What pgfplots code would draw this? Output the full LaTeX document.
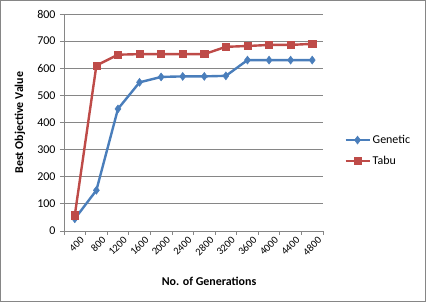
\documentclass[border=0pt]{standalone}
\usepackage{pgfplots}
\pgfplotsset{compat=1.18}
\usepackage{fontspec}
\setmainfont{Carlito}
\definecolor{gen}{HTML}{4A7EBB}
\definecolor{tabu}{HTML}{BE4B48}
\definecolor{ax}{HTML}{868686}
\begin{document}
\begin{tikzpicture}[x=1bp,y=1bp]
\useasboundingbox (0,0) rectangle (426,302);
\draw[ax, line width=0.8bp] (0.5,0.5) rectangle (425.5,301.5);
\begin{axis}[
  at={(64bp,71bp)}, anchor=south west,
  scale only axis, width=259bp, height=217bp,
  xmin=-0.5, xmax=11.5, ymin=0, ymax=800,
  ytick={0,100,...,800},
  xtick={0,...,11},
  xticklabels={400,800,1200,1600,2000,2400,2800,3200,3600,4000,4400,4800},
  minor xtick={-0.5,0.5,...,11.5},
  major x tick style={draw=none},
  minor x tick style={ax, line width=0.8bp},
  minor tick length=4bp,
  major tick length=4bp,
  axis x line*=bottom, axis y line*=left,
  axis line style={ax, line width=0.8bp, -},
  y tick style={ax, line width=0.8bp},
  tick align=outside,
  ymajorgrids, grid style={ax, line width=0.8bp},
  /pgf/number format/assume math mode=true,
  ticklabel style={font=\fontsize{12}{14}\selectfont},
  xticklabel style={font=\fontsize{10.5}{12}\selectfont, rotate=45, anchor=north east, inner sep=1bp, yshift=-3bp, xshift=4bp},
  yticklabel style={xshift=-1bp},
  xlabel={\textbf{No. of Generations}},
  ylabel={\textbf{Best Objective Value}},
  label style={font=\fontsize{12}{14}\selectfont},
  xlabel style={at={(axis description cs:0.56,-0.23)}, anchor=center},
  ylabel style={at={(axis description cs:-0.17,0.5)}, anchor=center},
  legend style={draw=none, fill=none, at={(axis description cs:1.07,0.371)}, anchor=west,
    font=\fontsize{12}{14}\selectfont, row sep=7bp},
  legend cell align=left,
  legend image code/.code={\draw[#1, mark repeat=2, mark phase=2] plot coordinates {(0bp,0bp) (12bp,0bp) (24bp,0bp)};},
  clip=false,
]
\addplot[gen, line width=2.4bp, mark=diamond*, mark size=4bp, mark options={solid, fill=gen, draw=gen, line width=0.5bp}]
 coordinates {(0,45) (1,150) (2,450) (3,548) (4,568) (5,570) (6,570) (7,572) (8,630) (9,630) (10,630) (11,630)};
\addlegendentry{Genetic}
\addplot[tabu, line width=2.4bp, mark=square*, mark size=3.6bp, mark options={solid, fill=tabu, draw=tabu, line width=0.5bp}]
 coordinates {(0,58) (1,610) (2,650) (3,652) (4,652) (5,652) (6,652) (7,679) (8,682) (9,686) (10,686) (11,690)};
\addlegendentry{Tabu}
\end{axis}
\end{tikzpicture}
\end{document}
